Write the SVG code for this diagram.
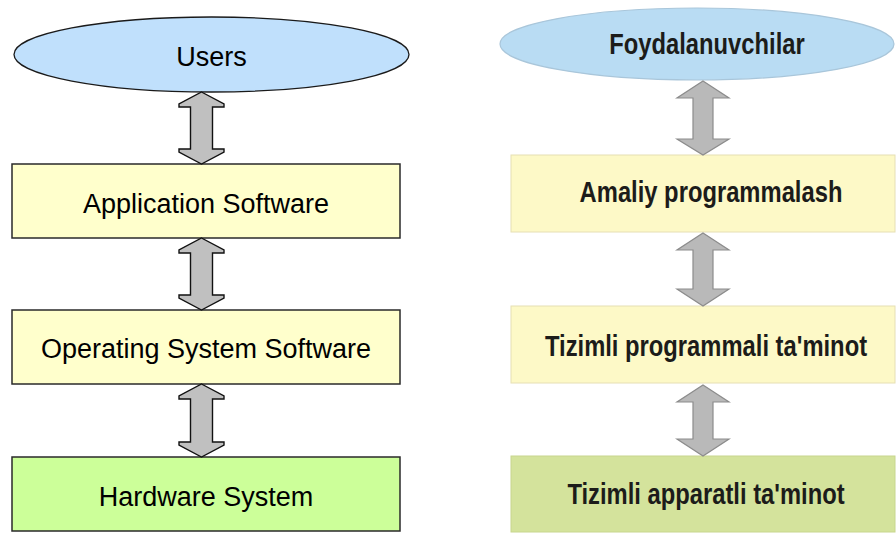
<svg xmlns="http://www.w3.org/2000/svg" width="896" height="533" viewBox="0 0 896 533">
<style>
.lt{font-family:"Liberation Sans",Arial,sans-serif;font-size:27px;fill:#000;text-anchor:middle}
.rt{font-family:"Liberation Sans",Arial,sans-serif;font-size:29px;font-weight:bold;fill:#1c1c1a;text-anchor:middle}
.lbox{stroke:#2a2a2a;stroke-width:1.5}
.larr{fill:#c0c0c0;stroke:#111;stroke-width:1.4;stroke-linejoin:miter}
.rarr{fill:#b9b9b9;stroke:#8c8c8c;stroke-width:1.2}
.rbox{stroke:#e6dfb4;stroke-width:1}
</style>
<rect x="0" y="0" width="896" height="533" fill="#ffffff"/>
<g id="users">
<ellipse cx="211.5" cy="54.5" rx="197.5" ry="37.5" fill="#c0e0fc" stroke="#1a1a1a" stroke-width="1.3"/>
<text class="lt" x="211.5" y="66">Users</text>
</g>
<g id="application-software">
<rect class="lbox" x="12" y="164" width="388" height="74" fill="#ffffcc"/>
<text class="lt" x="206" y="213">Application Software</text>
</g>
<g id="operating-system-software">
<rect class="lbox" x="12" y="310" width="388" height="74" fill="#ffffcc"/>
<text class="lt" x="206" y="358">Operating System Software</text>
</g>
<g id="hardware-system">
<rect class="lbox" x="12" y="457" width="388" height="74" fill="#ccff99"/>
<text class="lt" x="206" y="506">Hardware System</text>
</g>
<g id="foydalanuvchilar">
<ellipse cx="697" cy="44" rx="197" ry="36" fill="#b9dcf3" stroke="#a9c6da" stroke-width="1.2"/>
<text class="rt" transform="translate(707,54) scale(0.82,1)" x="0" y="0">Foydalanuvchilar</text>
</g>
<g id="amaliy-programmalash">
<rect class="rbox" x="511" y="155" width="384" height="77" fill="#fdf9c7"/>
<text class="rt" transform="translate(711,202) scale(0.82,1)" x="0" y="0">Amaliy programmalash</text>
</g>
<g id="tizimli-programmali">
<rect class="rbox" x="511" y="306" width="384" height="77" fill="#fdf9c7"/>
<text class="rt" transform="translate(706,356) scale(0.82,1)" x="0" y="0">Tizimli programmali ta'minot</text>
</g>
<g id="tizimli-apparatli">
<rect x="511" y="456" width="384" height="76" fill="#d4e39c" stroke="#c8d68e" stroke-width="1"/>
<text class="rt" transform="translate(706,504) scale(0.82,1)" x="0" y="0">Tizimli apparatli ta'minot</text>
</g>
<g id="connectors">
<path class="larr" d="M201.5,92 L224,104 L224,107 L212.5,107 L212.5,149 L224,149 L224,152 L201.5,164 L179,152 L179,149 L190.5,149 L190.5,107 L179,107 L179,104 Z"/>
<path class="larr" d="M201.5,238 L224,250 L224,253 L212.5,253 L212.5,295 L224,295 L224,298 L201.5,310 L179,298 L179,295 L190.5,295 L190.5,253 L179,253 L179,250 Z"/>
<path class="larr" d="M201.5,384 L224,396 L224,399 L212.5,399 L212.5,442 L224,442 L224,445 L201.5,457 L179,445 L179,442 L190.5,442 L190.5,399 L179,399 L179,396 Z"/>
<path class="rarr" d="M703,81 L729,98 L713,98 L713,139 L729,139 L703,155 L677,139 L693,139 L693,98 L677,98 Z"/>
<path class="rarr" d="M703,233 L729,250 L713,250 L713,289 L729,289 L703,306 L677,289 L693,289 L693,250 L677,250 Z"/>
<path class="rarr" d="M703,385 L729,402 L713,402 L713,439 L729,439 L703,456 L677,439 L693,439 L693,402 L677,402 Z"/>
</g>
</svg>
